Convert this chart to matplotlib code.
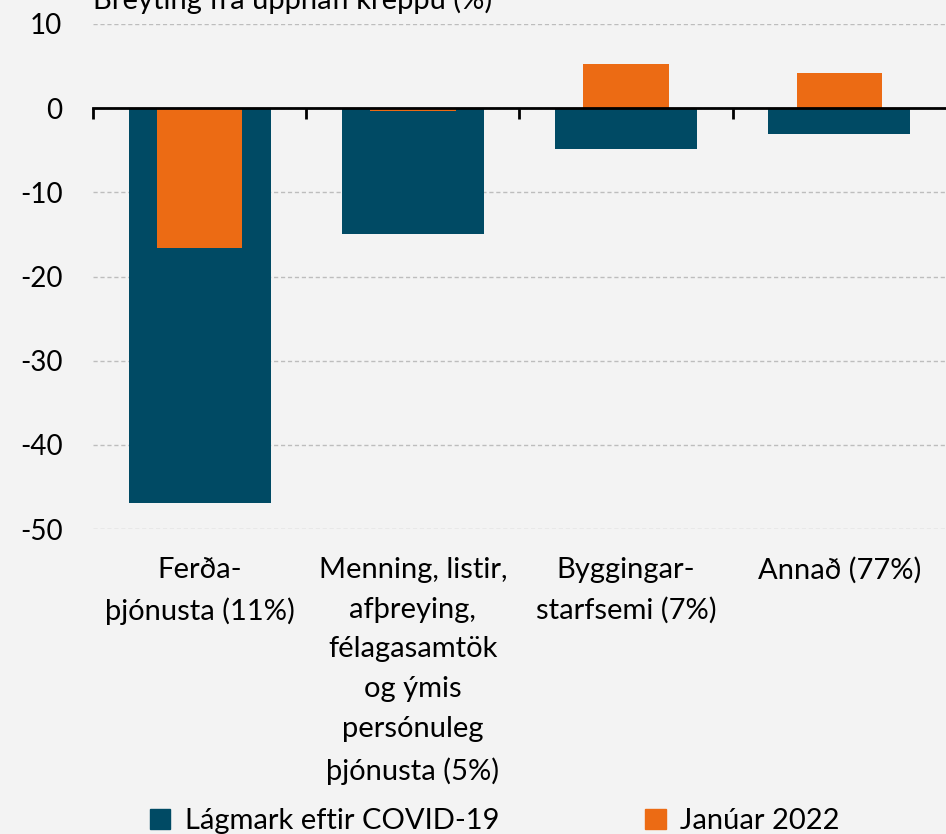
import matplotlib.pyplot as plt
from matplotlib.patches import Patch

categories = ['Ferða-\nþjónusta (11%)',
              'Menning, listir,\nafþreying,\nfélagasamtök\nog ýmis\npersónuleg\nþjónusta (5%)',
              'Byggingar-\nstarfsemi (7%)',
              'Annað (77%)']
lagmark = [-46.9, -14.9, -4.8, -3.1]
januar = [-16.6, -0.35, 5.2, 4.15]
yticks = [10, 0, -10, -20, -30, -40, -50]

teal = '#004a64'
orange = '#ec6b14'
bg = '#f3f3f3'

plt.rcParams['font.family'] = ['Lato', 'DejaVu Sans']

fig = plt.figure(figsize=(9.46, 8.34), dpi=100, facecolor=bg)
ax = fig.add_axes([0.0983, 1 - 529 / 834, 1 - 0.0983, (529 - 24) / 834])
ax.set_facecolor(bg)

x = list(range(len(categories)))
ax.bar(x, lagmark, width=0.665, color=teal, zorder=2)
ax.bar(x, januar, width=0.40, color=orange, zorder=3)

ax.set_xlim(-0.5, 3.5)
ax.set_ylim(-50, 10)
ax.set_yticks(yticks)
ax.set_yticklabels([str(v) for v in yticks], fontsize=20)
ax.tick_params(axis='y', length=0, pad=22)
ax.grid(axis='y', color='#bdbdbd', linestyle=(0, (3, 2)), linewidth=1, zorder=0)

for s in ['top', 'right', 'left']:
    ax.spines[s].set_visible(False)
ax.spines['bottom'].set_position(('data', 0))
ax.spines['bottom'].set_linewidth(2)
ax.spines['bottom'].set_zorder(4)
ax.set_xticks([-0.5, 0.5, 1.5, 2.5])
ax.set_xticklabels([])
ax.tick_params(axis='x', direction='out', length=8, width=2)

for i, lab in enumerate(categories):
    ax.text(i, -53.3, lab, ha='center', va='top', fontsize=21,
            linespacing=1.66, clip_on=False)

fig.text(93 / 946, 1 - 9 / 834, 'Breyting frá upphafi kreppu (%)',
         fontsize=21, ha='left', va='baseline')

handles = [Patch(color=teal, label='Lágmark eftir COVID-19'),
           Patch(color=orange, label='Janúar 2022')]
fig.legend(handles=handles, loc='lower center', bbox_to_anchor=(0.523, -0.032),
           ncol=2, frameon=False, fontsize=21, handlelength=0.7,
           handleheight=0.7, handletextpad=0.5, columnspacing=5.0)

fig.savefig('out.png', dpi=100, facecolor=bg)
